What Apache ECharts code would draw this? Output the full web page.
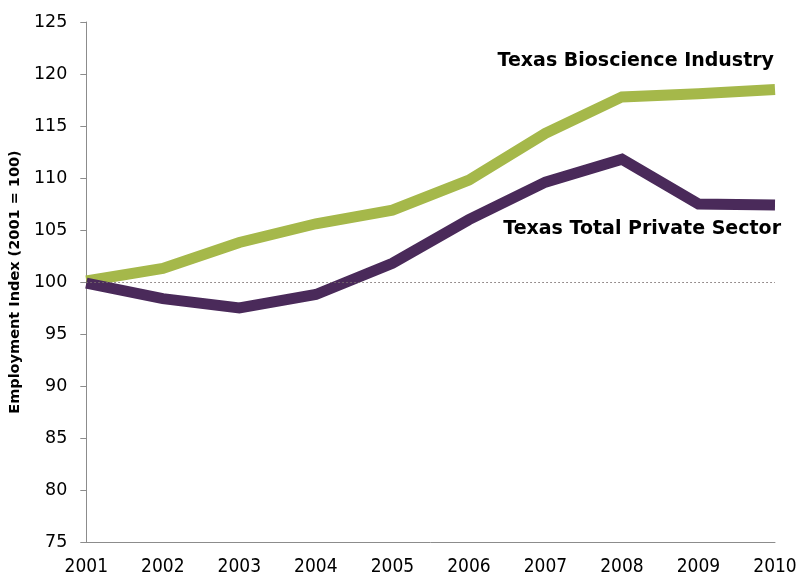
<!DOCTYPE html>
<html>
<head>
<meta charset="utf-8">
<script src="https://cdn.jsdelivr.net/npm/echarts@6/dist/echarts.min.js"></script>
<style>
html,body{margin:0;padding:0;background:#fff;}
#chart{width:801px;height:577px;}
</style>
</head>
<body>
<div id="chart"></div>
<script>
const years = ['2001','2002','2003','2004','2005','2006','2007','2008','2009','2010'];
const bioscience = [100.1, 101.3, 103.8, 105.6, 106.9, 109.8, 114.3, 117.8, 118.1, 118.5];
const privateSector = [99.9, 98.4, 97.5, 98.8, 101.8, 106.0, 109.6, 111.8, 107.5, 107.4];
const yTicks = [75, 80, 85, 90, 95, 100, 105, 110, 115, 120, 125];
const baseline = 100;

const chart = echarts.init(document.getElementById('chart'), null, {renderer:'canvas'});
const font = 'DejaVu Sans, Verdana, sans-serif';
chart.setOption({
  animation: false,
  backgroundColor: '#ffffff',
  grid: {left: 86, right: 26, top: 22, bottom: 34, containLabel: false},
  xAxis: {
    type: 'category',
    data: years,
    boundaryGap: false,
    axisLine: {lineStyle: {color: '#8c8c8c', width: 1}},
    axisTick: {show: false},
    axisLabel: {color: '#000', fontFamily: '"DejaVu Sans Condensed", "DejaVu Sans", sans-serif', fontSize: 19, margin: 16},
    splitLine: {show: false}
  },
  yAxis: {
    type: 'value',
    min: yTicks[0],
    max: yTicks[yTicks.length - 1],
    interval: 5,
    name: 'Employment Index (2001 = 100)',
    nameLocation: 'middle',
    nameGap: 61,
    nameTextStyle: {color: '#000', fontFamily: font, fontSize: 14.5, fontWeight: 'bold'},
    axisLine: {show: true, lineStyle: {color: '#8c8c8c', width: 1}},
    axisTick: {show: true, length: 6, inside: false, lineStyle: {color: '#8c8c8c'}},
    axisLabel: {color: '#000', fontFamily: font, fontSize: 17.5, margin: 19},
    splitLine: {show: false}
  },
  series: [
    {
      name: 'Texas Bioscience Industry',
      type: 'line',
      data: bioscience,
      symbol: 'none',
      lineStyle: {color: '#a5b84a', width: 11, join: 'miter', cap: 'butt'},
      markLine: {
        silent: true,
        symbol: 'none',
        label: {show: false},
        lineStyle: {color: '#7a6f6f', width: 1.2, type: [1.5, 2.5]},
        data: [{yAxis: baseline}]
      },
      z: 2
    },
    {
      name: 'Texas Total Private Sector',
      type: 'line',
      data: privateSector,
      symbol: 'none',
      lineStyle: {color: '#4a2a5a', width: 11, join: 'miter', cap: 'butt'},
      z: 3
    }
  ],
  graphic: [
    {type: 'text', right: 27, top: 52, style: {text: 'Texas Bioscience Industry', font: 'bold 19px ' + font, fill: '#000', textAlign: 'right'}},
    {type: 'text', right: 20, top: 220, style: {text: 'Texas Total Private Sector', font: 'bold 19px ' + font, fill: '#000', textAlign: 'right'}}
  ]
});
</script>
</body>
</html>
